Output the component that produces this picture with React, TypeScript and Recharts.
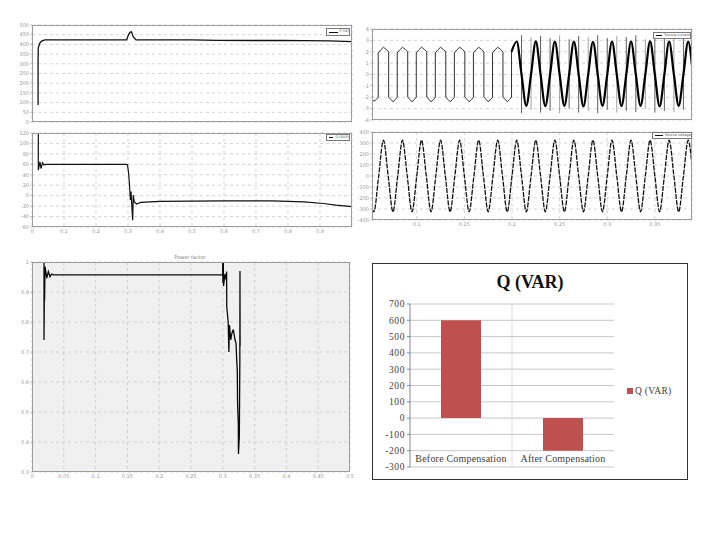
import React from 'react';
import { LineChart, Line, XAxis, YAxis, CartesianGrid, BarChart, Bar, ReferenceLine } from 'recharts';

// ---------- top-left upper : active power ----------
const pData = [
  [0.019, 88], [0.019, 300], [0.0195, 381], [0.024, 405], [0.03, 417], [0.04, 423],
  [0.296, 423], [0.301, 448], [0.306, 462], [0.311, 465], [0.316, 440], [0.325, 423],
  [0.5, 423], [0.58, 421], [0.7, 420], [0.78, 421], [0.85, 419], [0.93, 418], [1.0, 414],
];
const pTicksX = [0, 0.1, 0.2, 0.3, 0.4, 0.5, 0.6, 0.7, 0.8, 0.9, 1];
const pTicksY = [0, 50, 100, 150, 200, 250, 300, 350, 400, 450, 500];

// ---------- top-left lower : reactive power ----------
const qLineData = [
  [0.0197, 119], [0.0197, 49], [0.025, 65], [0.028, 52], [0.033, 63], [0.037, 59], [0.045, 60],
  [0.294, 60], [0.2985, 59], [0.302, 43], [0.305, 17], [0.3075, -8], [0.3095, 8], [0.3115, -15],
  [0.3145, -47], [0.3165, 1], [0.3197, -12], [0.327, -16], [0.34, -13], [0.4, -11], [0.6, -10],
  [0.75, -10], [0.85, -12], [0.91, -15], [0.95, -18], [1.0, -21],
];
const qTicksX = [0, 0.1, 0.2, 0.3, 0.4, 0.5, 0.6, 0.7, 0.8, 0.9];
const qTicksY = [-60, -40, -20, 0, 20, 40, 60, 80, 100, 120];

// ---------- top-right upper : source current ----------
const iBefore = [
  [0.053, -2.15], [0.055, -2.35], [0.0575, -2.2], [0.0595, -2.0],
  [0.0595, 1.9], [0.062, 2.15], [0.065, 2.4], [0.068, 2.2], [0.0705, 2.0], [0.0705, -2.0], [0.073, -2.2], [0.075, -2.4], [0.0775, -2.2], [0.0795, -2.0],
  [0.0795, 1.9], [0.082, 2.15], [0.085, 2.4], [0.088, 2.2], [0.0905, 2.0], [0.0905, -2.0], [0.093, -2.2], [0.095, -2.4], [0.0975, -2.2], [0.0995, -2.0],
  [0.0995, 1.9], [0.102, 2.15], [0.105, 2.4], [0.108, 2.2], [0.1105, 2.0], [0.1105, -2.0], [0.113, -2.2], [0.115, -2.4], [0.1175, -2.2], [0.1195, -2.0],
  [0.1195, 1.9], [0.122, 2.15], [0.125, 2.4], [0.128, 2.2], [0.1305, 2.0], [0.1305, -2.0], [0.133, -2.2], [0.135, -2.4], [0.1375, -2.2], [0.1395, -2.0],
  [0.1395, 1.9], [0.142, 2.15], [0.145, 2.4], [0.148, 2.2], [0.1505, 2.0], [0.1505, -2.0], [0.153, -2.2], [0.155, -2.4], [0.1575, -2.2], [0.1595, -2.0],
  [0.1595, 1.9], [0.162, 2.15], [0.165, 2.4], [0.168, 2.2], [0.1705, 2.0], [0.1705, -2.0], [0.173, -2.2], [0.175, -2.4], [0.1775, -2.2], [0.1795, -2.0],
  [0.1795, 1.9], [0.182, 2.15], [0.185, 2.4], [0.188, 2.2], [0.1905, 2.0], [0.1905, -2.0], [0.193, -2.2], [0.195, -2.4], [0.1975, -2.2], [0.1995, -2.0],
  [0.1995, 2.0],
];
const iAfter = [
  [0.1995, 2.0], [0.205, 2.9], [0.21, 0], [0.215, -2.75], [0.22, 0], [0.225, 2.92], [0.23, 0], [0.235, -2.78],
  [0.24, 0], [0.245, 2.9], [0.25, 0], [0.255, -2.75], [0.26, 0], [0.265, 2.9], [0.27, 0], [0.275, -2.8],
  [0.28, 0], [0.285, 2.88], [0.29, 0], [0.295, -2.75], [0.3, 0], [0.305, 2.9], [0.31, 0], [0.315, -2.78],
  [0.32, 0], [0.325, 2.9], [0.33, 0], [0.335, -2.75], [0.34, 0], [0.345, 2.92], [0.35, 0], [0.355, -2.8],
  [0.36, 0], [0.365, 2.9], [0.37, 0], [0.375, -2.75], [0.38, 0], [0.385, 2.9], [0.389, 0.8],
];
const spikeT = [0.21, 0.22, 0.23, 0.24, 0.25, 0.26, 0.27, 0.28, 0.29, 0.3, 0.31, 0.32, 0.33, 0.34, 0.35, 0.36, 0.37, 0.38];
const spikeHi = [3.45, 3.3, 3.4, 3.2, 3.45, 3.1, 3.4, 3.3, 3.45, 3.2, 3.4, 3.3, 3.45, 3.1, 3.4, 3.2, 3.35, 3.3];
const spikeLo = [-3.4, -3.1, -3.35, -3.2, -3.4, -3.0, -3.35, -3.2, -3.4, -3.1, -3.35, -3.2, -3.3, -3.0, -3.35, -3.2, -3.3, -3.1];
const iTicksY = [-4, -3, -2, -1, 0, 1, 2, 3, 4];
const rightTicksX = [0.1, 0.15, 0.2, 0.25, 0.3, 0.35];

// ---------- top-right lower : source voltage ----------
const vData = [
  [0.053, -300], [0.055, -325], [0.06, 0], [0.065, 325], [0.07, 0], [0.075, -325], [0.08, 0], [0.085, 325],
  [0.09, 0], [0.095, -325], [0.1, 0], [0.105, 325], [0.11, 0], [0.115, -325], [0.12, 0], [0.125, 325],
  [0.13, 0], [0.135, -325], [0.14, 0], [0.145, 325], [0.15, 0], [0.155, -325], [0.16, 0], [0.165, 325],
  [0.17, 0], [0.175, -325], [0.18, 0], [0.185, 325], [0.19, 0], [0.195, -325], [0.2, 0], [0.205, 325],
  [0.21, 0], [0.215, -325], [0.22, 0], [0.225, 325], [0.23, 0], [0.235, -325], [0.24, 0], [0.245, 325],
  [0.25, 0], [0.255, -325], [0.26, 0], [0.265, 325], [0.27, 0], [0.275, -325], [0.28, 0], [0.285, 325],
  [0.29, 0], [0.295, -325], [0.3, 0], [0.305, 325], [0.31, 0], [0.315, -325], [0.32, 0], [0.325, 325],
  [0.33, 0], [0.335, -325], [0.34, 0], [0.345, 325], [0.35, 0], [0.355, -325], [0.36, 0], [0.365, 325],
  [0.37, 0], [0.375, -325], [0.38, 0], [0.385, 325], [0.389, 95],
];
const vTicksY = [-400, -300, -200, -100, 0, 100, 200, 300, 400];

// ---------- bottom-left : power factor ----------
const pfData = [
  [0.0189, 1.0], [0.0189, 0.74], [0.0195, 0.93], [0.0197, 0.87], [0.0205, 0.985], [0.0232, 0.946],
  [0.0257, 0.968], [0.0283, 0.951], [0.031, 0.96], [0.0335, 0.957], [0.2998, 0.957], [0.2999, 1.0],
  [0.3002, 0.93], [0.3008, 1.0], [0.3012, 0.92], [0.3035, 0.96], [0.3055, 0.94], [0.306, 0.968],
  [0.3062, 0.85], [0.3085, 0.8], [0.3095, 0.7], [0.3105, 0.79], [0.3125, 0.74], [0.314, 0.76],
  [0.3165, 0.775], [0.3192, 0.74], [0.3208, 0.73], [0.3219, 0.67], [0.3228, 0.64], [0.3232, 0.53],
  [0.3244, 0.46], [0.3246, 0.36], [0.326, 0.42], [0.3268, 0.67], [0.327, 0.97], [0.3272, 0.72],
];
const pfTicksX = [0, 0.05, 0.1, 0.15, 0.2, 0.25, 0.3, 0.35, 0.4, 0.45, 0.5];
const pfTicksY = [0.3, 0.4, 0.5, 0.6, 0.7, 0.8, 0.9, 1];

// ---------- bottom-right : bar chart ----------
const categories = ['Before Compensation', 'After Compensation'];
const qValues = [600, -200];
const qBarTicks = [-300, -200, -100, 0, 100, 200, 300, 400, 500, 600, 700];

const sans = "'DejaVu Sans', sans-serif";
const serif = "'Liberation Serif', 'Times New Roman', serif";

const toPts = (arr: number[][]) => arr.map(([t, v]) => ({ t, v }));

function Scope(props: any) {
  const { x, y, w, h, yW, xH, xDomain, xTicks, yDomain, yTicks, showX, bg, children } = props;
  const top = 5;
  const right = 4;
  const W = w + yW + right;
  const H = h + xH + top;
  return (
    <>
      <div style={{ position: 'absolute', left: x - yW, top: y - top, width: W, height: H }}>
        <LineChart width={W} height={H} margin={{ top, right, bottom: 0, left: 0 }}>
          <CartesianGrid stroke="#c2c2c2" strokeDasharray="3 3" strokeWidth={0.7} fill={bg || '#ffffff'} />
          <XAxis
            type="number"
            dataKey="t"
            domain={xDomain}
            ticks={xTicks}
            interval={0}
            allowDataOverflow
            height={xH}
            axisLine={false}
            tickLine={false}
            tickSize={0}
            tickMargin={2}
            tick={showX ? { fontSize: 5, fill: '#999999', fontFamily: sans } : false}
          />
          <YAxis
            type="number"
            domain={yDomain}
            ticks={yTicks}
            interval={0}
            allowDataOverflow
            width={yW}
            axisLine={false}
            tickSize={2}
            tickMargin={1}
            tickLine={{ stroke: '#a0a0a0', strokeWidth: 0.6 }}
            tick={{ fontSize: 5, fill: '#999999', fontFamily: sans }}
          />
          {children}
        </LineChart>
      </div>
      <div
        style={{
          position: 'absolute', left: x, top: y, width: w, height: h,
          border: '1px solid #9c9c9c', boxSizing: 'border-box', pointerEvents: 'none',
        }}
      />
    </>
  );
}

function LegendBox({ x, y, w, h, label }: any) {
  return (
    <div
      style={{
        position: 'absolute', left: x, top: y, width: w, height: h, background: '#fff',
        border: '0.8px solid #7a7a7a', boxSizing: 'border-box', display: 'flex', alignItems: 'center',
        paddingLeft: 2, gap: 2, overflow: 'hidden',
      }}
    >
      <div style={{ width: 9, height: 1, background: '#111' }} />
      <span style={{ fontSize: 3.5, fontFamily: sans, color: '#555', whiteSpace: 'nowrap', lineHeight: 1 }}>{label}</span>
    </div>
  );
}

function CatTick(props: any) {
  const { x, y, payload } = props;
  const idx = Math.floor(payload.value);
  return (
    <text x={x} y={y - 5} textAnchor="middle" fontSize={10} fontFamily={serif} fill="#404040" letterSpacing={0.2}>
      {categories[idx]}
    </text>
  );
}

export default function App() {
  const barData = categories.map((name, i) => ({ name, x: i + 0.5, q: qValues[i] }));
  return (
    <div style={{ position: 'absolute', left: 0, top: 0, width: 720, height: 540, background: '#fff', overflow: 'hidden' }}>
      {/* top-left upper */}
      <Scope x={32} y={25} w={320} h={97} yW={16} xH={5} xDomain={[0, 1]} xTicks={pTicksX} yDomain={[0, 500]} yTicks={pTicksY} showX={false}>
        <Line data={toPts(pData)} dataKey="v" type="linear" stroke="#111" strokeWidth={1.3} dot={false} isAnimationActive={false} />
      </Scope>
      <LegendBox x={326} y={28} w={24} h={8} label="P (W)" />

      {/* top-left lower */}
      <Scope x={32} y={133} w={320} h={94} yW={16} xH={9} xDomain={[0, 1]} xTicks={qTicksX} yDomain={[-60, 120]} yTicks={qTicksY} showX>
        <Line data={toPts(qLineData)} dataKey="v" type="linear" stroke="#111" strokeWidth={1.2} dot={false} isAnimationActive={false} />
      </Scope>
      <LegendBox x={326} y={134} w={24} h={7} label="Q (VAR)" />

      {/* top-right upper */}
      <Scope x={372} y={29} w={320} h={91} yW={14} xH={4} xDomain={[0.053, 0.389]} xTicks={rightTicksX} yDomain={[-4, 4]} yTicks={iTicksY} showX={false}>
        {spikeT.map((t, i) => (
          <ReferenceLine
            key={i}
            segment={[{ x: t, y: spikeLo[i] }, { x: t, y: spikeHi[i] }]}
            stroke={i % 3 === 1 ? '#8a8a8a' : '#333'}
            strokeWidth={0.8}
            ifOverflow="visible"
          />
        ))}
        <Line data={toPts(iBefore)} dataKey="v" type="linear" stroke="#1a1a1a" strokeWidth={0.9} dot={false} isAnimationActive={false} />
        <Line data={toPts(iAfter)} dataKey="v" type="monotone" stroke="#000" strokeWidth={2.2} dot={false} isAnimationActive={false} />
      </Scope>
      <LegendBox x={653} y={32} w={38} h={7} label="Source current" />

      {/* top-right lower */}
      <Scope x={372} y={132} w={320} h={88} yW={14} xH={9} xDomain={[0.053, 0.389]} xTicks={rightTicksX} yDomain={[-400, 400]} yTicks={vTicksY} showX>
        <Line data={toPts(vData)} dataKey="v" type="monotone" stroke="#111" strokeWidth={1.3} strokeDasharray="5 1.2" dot={false} isAnimationActive={false} />
      </Scope>
      <LegendBox x={652} y={132} w={40} h={7} label="Source voltage" />

      {/* bottom-left */}
      <Scope x={32} y={262} w={318} h={210} yW={16} xH={9} xDomain={[0, 0.5]} xTicks={pfTicksX} yDomain={[0.3, 1]} yTicks={pfTicksY} showX bg="#f0f0f0">
        <Line data={toPts(pfData)} dataKey="v" type="linear" stroke="#0a0a0a" strokeWidth={1.3} dot={false} isAnimationActive={false} />
      </Scope>
      <div style={{ position: 'absolute', left: 150, top: 254, width: 80, textAlign: 'center', fontSize: 5, fontFamily: sans, color: '#777' }}>
        Power factor
      </div>

      {/* bottom-right bar chart */}
      <div style={{ position: 'absolute', left: 372, top: 263, width: 316, height: 217, border: '1px solid #333', boxSizing: 'border-box' }} />
      <div style={{ position: 'absolute', left: 372, top: 272, width: 316, textAlign: 'center', fontFamily: serif, fontWeight: 'bold', fontSize: 18, lineHeight: '20px', color: '#111' }}>
        Q (VAR)
      </div>
      <div style={{ position: 'absolute', left: 372, top: 263 }}>
        <BarChart width={316} height={217} data={barData} margin={{ top: 41, right: 74, bottom: 3, left: 8 }}>
          <CartesianGrid vertical={false} stroke="#b9b9b9" strokeWidth={0.8} />
          <XAxis
            type="number"
            dataKey="x"
            domain={[0, 2]}
            ticks={[0.5, 1.5]}
            interval={0}
            height={10}
            axisLine={false}
            tickLine={false}
            tickSize={0}
            tickMargin={0}
            tick={<CatTick />}
          />
          <YAxis
            type="number"
            domain={[-300, 700]}
            ticks={qBarTicks}
            interval={0}
            width={30}
            axisLine={{ stroke: '#868686' }}
            tickLine={{ stroke: '#868686' }}
            tickSize={3}
            tickMargin={2}
            tick={{ fontSize: 9.5, fill: '#404040', fontFamily: serif, letterSpacing: 0.6 }}
          />
          <ReferenceLine x={1} stroke="#d4d4d4" strokeWidth={0.8} />
          <Bar dataKey="q" fill="#c0504d" barSize={40} isAnimationActive={false} />
        </BarChart>
      </div>
      <div style={{ position: 'absolute', left: 627, top: 386, display: 'flex', alignItems: 'center', gap: 2 }}>
        <div style={{ width: 6, height: 6, background: '#c0504d' }} />
        <span style={{ fontFamily: serif, fontSize: 9.5, color: '#404040', letterSpacing: 0.3 }}>Q (VAR)</span>
      </div>
    </div>
  );
}
